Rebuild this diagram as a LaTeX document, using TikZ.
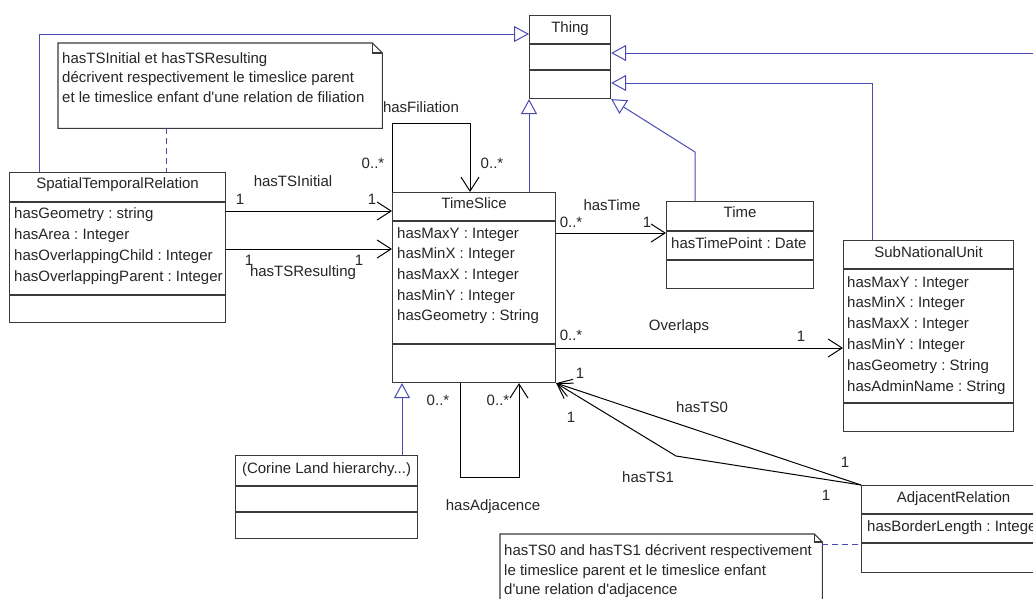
\documentclass[tikz,border=0pt]{standalone}
\usepackage{fontspec}
\setmainfont{Liberation Sans}
\usetikzlibrary{arrows.meta, positioning}
\definecolor{umlBlue}{HTML}{4A4AB4}
\definecolor{umlGrey}{HTML}{3A3A3A}
\definecolor{umlText}{HTML}{262626}
\newcommand{\umlfont}{\fontsize{15}{20}\selectfont\frenchspacing}
\newcommand{\notefont}{\fontsize{15}{19.5}\selectfont\frenchspacing}
\tikzset{
    class box/.style={rectangle, draw=umlGrey, fill=white, line width=1.1pt, anchor=north west, inner sep=0pt},
    class line/.style={draw=umlGrey, line width=1.1pt},
    class title/.style={font=\umlfont, text=umlText, anchor=base, inner sep=0pt},
    class attr/.style={font=\umlfont, text=umlText, anchor=base west, inner sep=0pt},
    gen arrow/.style={-{Triangle[open, length=15pt, width=16pt, fill=white]}, umlBlue, line width=1pt},
    assoc arrow/.style={-{Straight Barb[length=14pt, width=18pt]}, black, line width=1pt},
    note box/.style={rectangle, draw=none, anchor=north west, inner sep=0pt},
    note text/.style={font=\notefont, text=umlText, align=left, anchor=north west, inner sep=0pt},
    note link/.style={umlBlue, dash pattern=on 6pt off 4pt, line width=1pt},
    label text/.style={font=\umlfont, text=umlText, inner sep=0pt},
}

\begin{document}
\begin{tikzpicture}[x=1pt, y=-1pt]
    \useasboundingbox (0,0) rectangle (1033,598);
    \clip (0,0) rectangle (1033,598);
    \fill[white] (0,0) rectangle (1033,598);

    % notes
    \node[note box, minimum width=324pt, minimum height=85pt] (note1) at (58,43) {};
    \draw[class line, fill=white] (note1.north west) -- ([xshift=-10pt]note1.north east) -- ([yshift=-10pt]note1.north east) -- (note1.south east) -- (note1.south west) -- cycle;
    \draw[class line] ([xshift=-10pt]note1.north east) -- ([xshift=-10pt, yshift=-10pt]note1.north east) -- ([yshift=-10pt]note1.north east);
    \node[note text] (note1-text) at ([xshift=4pt, yshift=-9.3pt]note1.north west)
        {hasTSInitial et hasTSResulting\\d\'ecrivent respectivement le timeslice parent\\et le timeslice enfant d\textquotesingle une relation de filiation};

    \node[note box, minimum width=322pt, minimum height=90pt] (note2) at (500,534) {};
    \draw[class line, fill=white] (note2.north west) -- ([xshift=-8pt]note2.north east) -- ([yshift=-8pt]note2.north east) -- (note2.south east) -- (note2.south west) -- cycle;
    \draw[class line] ([xshift=-8pt]note2.north east) -- ([xshift=-8pt, yshift=-8pt]note2.north east) -- ([yshift=-8pt]note2.north east);
    \node[note text] (note2-text) at ([xshift=4pt, yshift=-10.3pt]note2.north west)
        {hasTS0 and hasTS1 d\'ecrivent respectivement\\le timeslice parent et le timeslice enfant\\d\textquotesingle une relation d\textquotesingle adjacence};

    % classes
    \node[class box, minimum width=81pt, minimum height=83pt] (thing) at (529,15) {};
    \node[class title] (thing-title) at (thing.north |- 0,32) {Thing};
    \draw[class line] (thing.west |- 0,44) -- (thing.east |- 0,44);
    \draw[class line] (thing.west |- 0,70) -- (thing.east |- 0,70);

    \node[class box, minimum width=216pt, minimum height=150pt] (str) at (9,172) {};
    \node[class title] (str-title) at (str.north |- 0,188) {SpatialTemporalRelation};
    \draw[class line] (str.west |- 0,202) -- (str.east |- 0,202);
    \draw[class line] (str.west |- 0,295) -- (str.east |- 0,295);
    \foreach \attr [count=\i] in {hasGeometry : string, hasArea : Integer, hasOverlappingChild : Integer, hasOverlappingParent : Integer}
        \node[class attr] (str-a\i) at (14, 197+21*\i) {\attr};

    \node[class box, minimum width=163pt, minimum height=190pt] (ts) at (392,192) {};
    \node[class title] (ts-title) at (ts.north |- 0,208) {TimeSlice};
    \draw[class line] (ts.west |- 0,221) -- (ts.east |- 0,221);
    \draw[class line] (ts.west |- 0,344) -- (ts.east |- 0,344);
    \foreach \attr [count=\i] in {hasMaxY : Integer, hasMinX : Integer, hasMaxX : Integer, hasMinY : Integer, hasGeometry : String}
        \node[class attr] (ts-a\i) at (397, 217.3+20.7*\i) {\attr};

    \node[class box, minimum width=147pt, minimum height=87pt] (time) at (666,201) {};
    \node[class title] (time-title) at (time.north |- 0,217) {Time};
    \draw[class line] (time.west |- 0,231) -- (time.east |- 0,231);
    \draw[class line] (time.west |- 0,260) -- (time.east |- 0,260);
    \node[class attr] (time-a1) at (671,248) {hasTimePoint : Date};

    \node[class box, minimum width=170pt, minimum height=191pt] (snu) at (843,240) {};
    \node[class title] (snu-title) at (snu.north |- 0,257) {SubNationalUnit};
    \draw[class line] (snu.west |- 0,269) -- (snu.east |- 0,269);
    \draw[class line] (snu.west |- 0,403) -- (snu.east |- 0,403);
    \foreach \attr [count=\i] in {hasMaxY : Integer, hasMinX : Integer, hasMaxX : Integer, hasMinY : Integer, hasGeometry : String, hasAdminName : String}
        \node[class attr] (snu-a\i) at (847, 266.2+20.8*\i) {\attr};

    \node[class box, minimum width=182pt, minimum height=83pt] (corine) at (235,455) {};
    \node[class title] (corine-title) at (corine.north |- 0,473) {(Corine Land hierarchy...)};
    \draw[class line] (corine.west |- 0,486) -- (corine.east |- 0,486);
    \draw[class line] (corine.west |- 0,512) -- (corine.east |- 0,512);

    \node[class box, minimum width=184pt, minimum height=87pt] (adj) at (861,485) {};
    \node[class title] (adj-title) at (adj.north |- 0,502) {AdjacentRelation};
    \draw[class line] (adj.west |- 0,514) -- (adj.east |- 0,514);
    \draw[class line] (adj.west |- 0,543) -- (adj.east |- 0,543);
    \node[class attr] (adj-a1) at (867,531) {hasBorderLength : Integer};

    % note links
    \draw[note link] (note1.south -| 166,0) -- (str.north -| 166,0);
    \draw[note link] (note2.east |- 0,544) -- (adj.west |- 0,544);

    % generalisation
    \coordinate (offclass) at (1060,53);
    \draw[gen arrow] (str.north -| 39,0) |- (thing.west |- 0,34);
    \draw[gen arrow] (ts.north -| thing.west) -- (thing.south west);
    \draw[gen arrow] (time.north -| 695,0) -- (695,152) -- (thing.south east);
    \draw[gen arrow] (snu.north -| 872,0) |- (thing.east |- 0,83);
    \draw[gen arrow] (offclass) -- (thing.east |- offclass);
    \draw[gen arrow] (corine.north -| 402,0) -- (ts.south -| 402,0);

    % associations
    \draw[assoc arrow] (str.east |- 0,211) -- (ts.west |- 0,211);
    \draw[assoc arrow] (str.east |- 0,249) -- (ts.west |- 0,249);
    \draw[assoc arrow] (ts.east |- 0,233) -- (time.west |- 0,233);
    \draw[assoc arrow] (ts.east |- 0,348) -- (snu.west |- 0,348);
    \draw[assoc arrow] (ts.north west) -- ++(0,-69) -| (ts.north -| 470,0);
    \draw[assoc arrow] (ts.south -| 460,0) -- ++(0,94) -| (ts.south -| 519,0);
    \draw[assoc arrow] (adj.north west) -- (ts.south east);
    \draw[assoc arrow] (adj.north west) -- (676,456) -- (ts.south east);

    % labels
    \node[label text] (l-fil) at (421,107) {hasFiliation};
    \node[label text] (m-fil1) at (373,163) {0..*};
    \node[label text] (m-fil2) at (492,163) {0..*};
    \node[label text] (l-init) at (293,181) {hasTSInitial};
    \node[label text] (m-init1) at (240,199) {1};
    \node[label text] (m-init2) at (372,199) {1};
    \node[label text] (l-res) at (303,273) {hasTSResulting};
    \node[label text] (m-res1) at (249,260) {1};
    \node[label text] (m-res2) at (359,260) {1};
    \node[label text] (l-time) at (612,205) {hasTime};
    \node[label text] (m-time1) at (571,222) {0..*};
    \node[label text] (m-time2) at (647,222) {1};
    \node[label text] (l-ovl) at (679,327) {Overlaps};
    \node[label text] (m-ovl1) at (571,335) {0..*};
    \node[label text] (m-ovl2) at (801,336) {1};
    \node[label text] (m-adj1) at (438,400) {0..*};
    \node[label text] (m-adj2) at (498,400) {0..*};
    \node[label text] (l-adj) at (493,507) {hasAdjacence};
    \node[label text] (l-ts0) at (702,407) {hasTS0};
    \node[label text] (m-ts0a) at (580,373) {1};
    \node[label text] (m-ts0b) at (845,462) {1};
    \node[label text] (l-ts1) at (648,477) {hasTS1};
    \node[label text] (m-ts1a) at (571,417) {1};
    \node[label text] (m-ts1b) at (826,495) {1};
\end{tikzpicture}
\end{document}
